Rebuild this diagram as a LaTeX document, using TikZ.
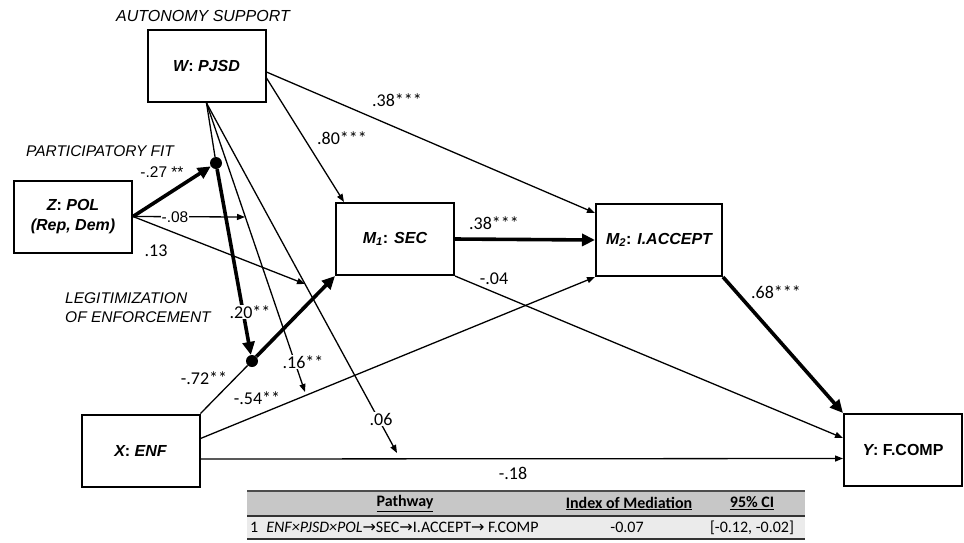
\documentclass[tikz,border=0pt]{standalone}
\usepackage{fontspec}
\setmainfont{Liberation Sans}
\newfontfamily\calfont{Carlito}
\newfontfamily\arrfont{DejaVu Sans}
\usetikzlibrary{arrows.meta}
\newcommand{\rarr}{{\arrfont\char"2192}}
\begin{document}
\begin{tikzpicture}[x=1pt,y=-1pt,
    box/.style={draw, line width=2pt, minimum width=118pt, minimum height=72pt, inner sep=0pt, align=center, font=\fontsize{16}{20}\selectfont\bfseries},
    dot/.style={circle, fill, minimum size=12pt, inner sep=0pt},
    thin/.style={line width=1.3pt, -{Triangle[length=8pt,width=6pt]}},
    plain/.style={line width=1.3pt},
    thick/.style={line width=3.6pt, -{Triangle[length=13pt,width=12pt]}},
    coef/.style={inner sep=1pt, font=\calfont\fontsize{18}{20}\selectfont},
    acoef/.style={inner sep=1pt, font=\fontsize{15.5}{18}\selectfont},
    note/.style={inner sep=0pt, align=left, font=\fontsize{15.5}{19}\selectfont\itshape},
    tab/.style={inner sep=0pt, font=\calfont\fontsize{16}{18}\selectfont},
    tabhead/.style={tab, font=\calfont\fontsize{16}{18}\selectfont\bfseries}]
    \useasboundingbox (0,0) rectangle (964,542);
    \node[box] (W) at (206.5,66) {{\itshape W}: {\itshape PJSD}};
    \node[box] (Z) at (73,216.5) {{\itshape Z}: {\itshape POL}\\{\itshape (Rep, Dem)}};
    \node[box] (M1) at (395,239) {{\itshape M\textsubscript{1}}: {\itshape SEC}};
    \node[box, minimum width=126pt] (M2) at (659,240) {{\itshape M\textsubscript{2}}: {\itshape I.ACCEPT}};
    \node[box] (X) at (140.5,450.5) {{\itshape X}: {\itshape ENF}};
    \node[box] (Y) at (903,450) {{\itshape Y}: F.COMP};
    \node[dot] (d1) at (216,163) {};
    \node[dot] (d2) at (252,361) {};
    \coordinate (tb) at (305,392);
    \coordinate (tc) at (397,453);
    \coordinate (t08) at (245,217);
    \coordinate (t13) at (305,284);
    \node[note, font=\fontsize{16}{19}\selectfont\itshape] (autonomy) at (203,16) {AUTONOMY SUPPORT};
    \node[note] (partfit) at (100,151) {PARTICIPATORY FIT};
    \node[note, anchor=west] (legit) at (65,307.5) {LEGITIMIZATION\\OF ENFORCEMENT};
    \draw[plain] (W.south) -- (d1);
    \draw[thin] (W.south) -- (tb);
    \draw[thin] (W.south) -- (tc);
    \draw[thick] (Z.east) -- (d1);
    \draw[thin] (Z.east) -- (t08);
    \draw[thin] (Z.east) -- (t13);
    \draw[thick] (d1) -- (d2);
    \draw[plain] (X.north east) -- (d2);
    \draw[thick] (d2) -- (M1.south west);
    \draw[thin] ([yshift=12pt]X.east) -- (M2.south west);
    \draw[thin] ([yshift=-8.5pt]X.east) -- ([yshift=-8.5pt]Y.west);
    \draw[thin] ([yshift=-6pt]W.east) -- ([yshift=27pt]M2.west);
    \draw[thin] ([yshift=-12pt]W.east) -- ([xshift=9pt]M1.north west);
    \draw[thick] (M1.east) -- (M2.west);
    \draw[thin] (M1.south east) -- ([yshift=12pt]Y.west);
    \draw[thick] (M2.south east) -- (Y.north west);
    \node[acoef] (c27) at (162,172) {-.27 **};
    \node[acoef, fill=white] (c08) at (175,217) {-.08};
    \node[coef] (c13) at (156,251) {.13};
    \node[coef] (c80) at (342,138) {.80***};
    \node[coef] (c38a) at (397,100) {.38***};
    \node[coef] (c38b) at (494,223) {.38***};
    \node[coef] (c04) at (494,279) {-.04};
    \node[coef] (c68) at (776,292) {.68***};
    \node[coef, fill=white] (c20) at (250,312) {.20**};
    \node[coef] (c72) at (204,378) {-.72**};
    \node[coef, fill=white] (c16) at (303,362) {.16**};
    \node[coef] (c54) at (257,398) {-.54**};
    \node[coef, fill=white] (c06) at (381,419) {.06};
    \node[coef] (c18) at (513,473) {-.18};
    \fill[black!22] (247,491) rectangle (805,516);
    \fill[black!8] (247,516) rectangle (805,539);
    \draw[line width=1.2pt, black!70] (247,491) -- (805,491);
    \draw[line width=1.2pt, black!80] (247,516) -- (805,516);
    \draw[line width=1.2pt, black!80] (247,539) -- (805,539);
    \node[tabhead] (hpath) at (405,503.5) {\underline{Pathway}};
    \node[tabhead] (hindex) at (629,503.5) {\underline{Index of Mediation}};
    \node[tabhead] (hci) at (752,503.5) {\underline{95\% CI}};
    \node[tab, anchor=west] (rpath) at (250,527.5) {1\hspace{8pt}\textit{ENF×PJSD×POL}\rarr SEC\rarr I.ACCEPT\rarr{} F.COMP};
    \node[tab] (rindex) at (627,527.5) {-0.07};
    \node[tab] (rci) at (752,527.5) {[-0.12, -0.02]};
\end{tikzpicture}
\end{document}
